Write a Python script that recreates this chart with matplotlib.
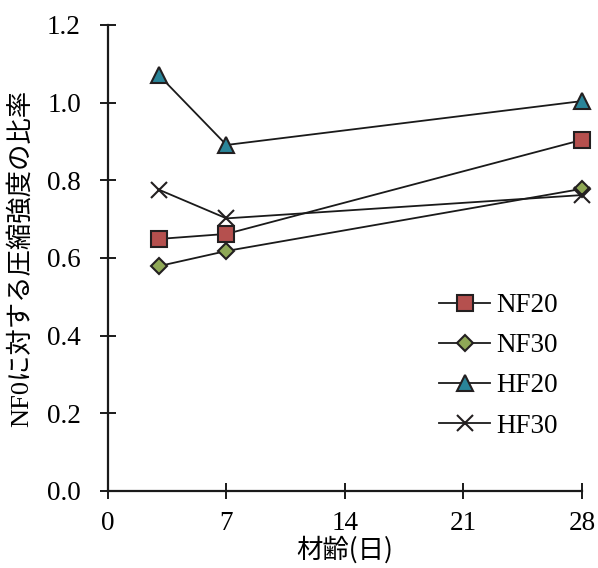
import matplotlib.pyplot as plt

# material age (days)
age = [3, 7, 28]
nf20 = [0.649, 0.662, 0.904]
nf30 = [0.579, 0.618, 0.778]
hf20 = [1.071, 0.891, 1.004]
hf30 = [0.776, 0.702, 0.762]

xticks = [0, 7, 14, 21, 28]
yticks = [0.0, 0.2, 0.4, 0.6, 0.8, 1.0, 1.2]

plt.rcParams['font.family'] = ['Liberation Serif', 'Noto Sans CJK JP']

fig = plt.figure(figsize=(5.98, 5.68), dpi=100)
ax = fig.add_axes([0.1806, 0.1356, 0.973 - 0.1806, 0.956 - 0.1356])

edge = '#231f20'
lc = '#1a1a1a'
ax.plot(age, nf20, color=lc, lw=1.3, marker='s', ms=11, mfc='#b5504e', mec=edge, mew=1.5, label='NF20', clip_on=False)
ax.plot(age, nf30, color=lc, lw=1.3, marker='D', ms=8.5, mfc='#8fa856', mec=edge, mew=1.5, label='NF30', clip_on=False)
ax.plot(age, hf20, color=lc, lw=1.3, marker='^', ms=12, mfc='#2a8599', mec=edge, mew=1.5, label='HF20', clip_on=False)
ax.plot(age, hf30, color=lc, lw=1.3, marker='x', ms=11, mec=edge, mew=1.5, label='HF30', clip_on=False)

ax.set_xlim(0, 28)
ax.set_ylim(0, 1.2)
ax.set_xticks(xticks)
ax.set_yticks(yticks)
ax.set_yticklabels([f'{v:.1f}' for v in yticks])
for s in ['top', 'right']:
    ax.spines[s].set_visible(False)
for s in ['left', 'bottom']:
    ax.spines[s].set_linewidth(1.6)
    ax.spines[s].set_color(lc)
ax.tick_params(direction='inout', length=11, width=1.4, color=lc, labelsize=19.5)
ax.tick_params(axis='x', pad=9)
ax.tick_params(axis='y', pad=14)

ax.set_xlabel('材齢(日)', fontsize=19, family=['Noto Sans CJK JP'], labelpad=0)
ax.set_ylabel('NF0に対する圧縮強度の比率', fontsize=19, family=['Liberation Serif', 'Noto Sans CJK JP'], labelpad=10)

ax.legend(loc='lower right', bbox_to_anchor=(1.0, 0.06), frameon=False, fontsize=19.5,
          handlelength=1.9, handletextpad=0.2, labelspacing=0.56)

fig.savefig('out.png', dpi=100)
